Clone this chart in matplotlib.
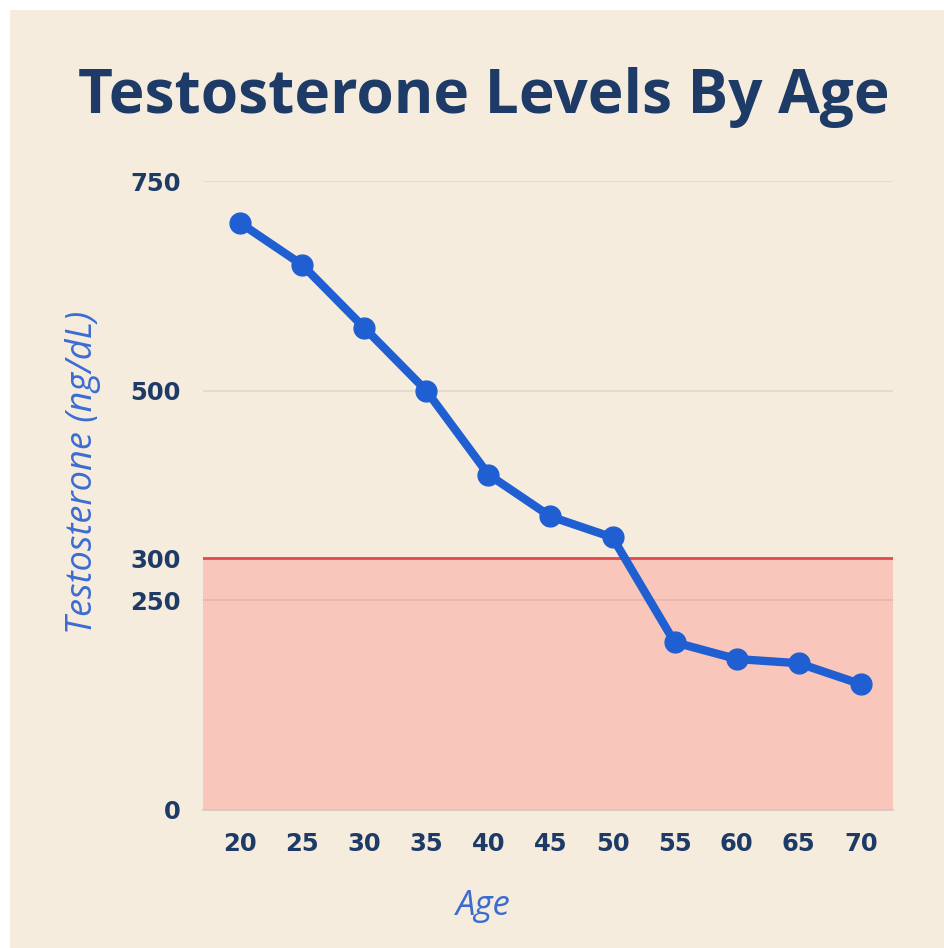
"""
Testosterone levels by age, line over a red 'low' zone.
"""
import matplotlib
matplotlib.use("Agg")
import matplotlib.pyplot as plt
from matplotlib.patches import Rectangle

# data
ages = [20, 25, 30, 35, 40, 45, 50, 55, 60, 65, 70]
levels = [700, 650, 575, 500, 400, 350, 325, 200, 180, 175, 150]
y_ticks = [0, 250, 300, 500, 750]
grid_levels = [250, 500, 750]
low_limit = 300

bg = '#F5ECDD'
navy = '#1D3B66'
blue = '#1F5FD1'

fig = plt.figure(figsize=(9.44, 9.48), dpi=100)
fig.patch.set_facecolor('white')
# beige panel, small white margin top/left
fig.patches.append(Rectangle((10 / 944, 0), 1, 1 - 10 / 948, transform=fig.transFigure,
                             facecolor=bg, edgecolor='none', zorder=-5))

ax = fig.add_axes([0.215, 0.1456, 0.731, 0.6634])
ax.set_facecolor('none')
ax.set_xlim(17.0, 72.6)
ax.set_ylim(0, 750)

ax.axhspan(0, low_limit, color='#F9C6BC', zorder=0.5, lw=0)
for g in grid_levels:
    ax.axhline(g, color='black', alpha=0.08, lw=1.3, zorder=1)
ax.axhline(low_limit, color='#E24B4B', lw=2, zorder=2)

ax.plot(ages, levels, color=blue, lw=6, marker='o', ms=15,
        solid_joinstyle='round', solid_capstyle='round', zorder=3)

for s in ['top', 'right', 'left']:
    ax.spines[s].set_visible(False)
ax.spines['bottom'].set_color('#D6C6C0')
ax.spines['bottom'].set_linewidth(1.2)

ax.set_xticks(ages)
ax.set_yticks(y_ticks)
ax.tick_params(length=0, labelsize=17.5, labelcolor=navy)
for lab in ax.get_xticklabels() + ax.get_yticklabels():
    lab.set_fontfamily('DejaVu Sans')
    lab.set_fontweight('bold')
ax.tick_params(axis='y', pad=16)
ax.tick_params(axis='x', pad=16)

ax.set_ylabel('Testosterone (ng/dL)', fontsize=26, color='#3C6CD2', style='italic',
              family='Open Sans')
ax.yaxis.set_label_coords(-0.148, 0.537)
ax.set_xlabel('Age', fontsize=25, color='#3C6CD2', style='italic',
              family='Open Sans')
ax.xaxis.set_label_coords(0.406, -0.125)

fig.text(0.512, 0.897, 'Testosterone Levels By Age', ha='center', va='center',
         fontsize=43.5, fontweight='bold', family='Open Sans', color=navy)

fig.savefig('out.png', dpi=100, facecolor=fig.get_facecolor())
